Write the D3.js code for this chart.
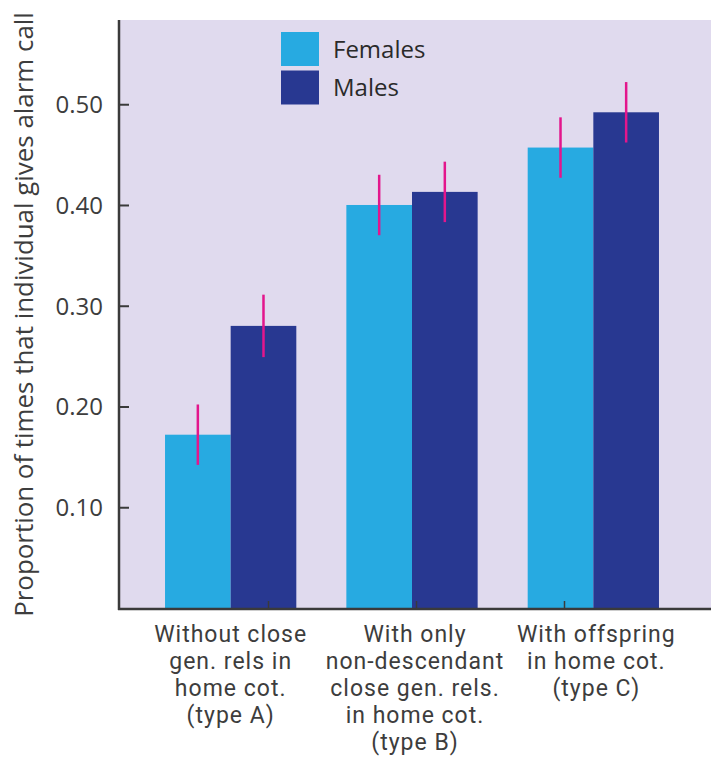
<!DOCTYPE html>
<html>
<head>
<meta charset="utf-8">
<script src="https://cdn.jsdelivr.net/npm/d3@7"></script>
<style>
  html, body { margin: 0; padding: 0; background: #ffffff; }
  svg { display: block; }
  text { font-family: "Open Sans", "Noto Sans", sans-serif; }
  text.cat { font-family: Roboto, "Open Sans", sans-serif; letter-spacing: 1px; }
</style>
</head>
<body>
<svg id="chart" width="711" height="757"></svg>
<script>
// ---- data ----
const categories = ["A", "B", "C"];
const categoryLabels = [
  ["Without close", "gen. rels in", "home cot.", "(type A)"],
  ["With only", "non-descendant", "close gen. rels.", "in home cot.", "(type B)"],
  ["With offspring", "in home cot.", "(type C)"]
];
const seriesNames = ["Females", "Males"];
const femalesValues = [0.172, 0.400, 0.457];
const malesValues   = [0.280, 0.413, 0.492];
const femalesError  = [0.030, 0.030, 0.030];
const malesError    = [0.031, 0.030, 0.030];
const yTicks = [0.10, 0.20, 0.30, 0.40, 0.50];
const yTitle = "Proportion of times that individual gives alarm call";

// ---- layout ----
const svg = d3.select("#chart");
const plotLeft = 119, plotTop = 20, plotRight = 711, plotBottom = 608;
const colors = { Females: "#27aae1", Males: "#283891" };
const errColor = "#e3168c";
const axisColor = "#3a3a3a";
const textColor = "#3d3d3d";

const y = d3.scaleLinear().domain([0, 0.5836]).range([plotBottom, plotTop]);
const x0 = d3.scaleBand().domain(categories).range([140, 684])
  .paddingInner(0.276).paddingOuter(0.138);
const x1 = d3.scaleBand().domain(seriesNames).range([0, x0.bandwidth()]).padding(0);
const xTickScale = d3.scalePoint().domain(categories).range([268, 564]);
const labelOffsets = [0, 3, 3];

// background
svg.append("rect")
  .attr("x", plotLeft).attr("y", plotTop)
  .attr("width", plotRight - plotLeft).attr("height", plotBottom - plotTop + 2)
  .attr("fill", "#e0daee");

// bars
const rows = categories.map((c, i) => ({
  cat: c,
  vals: [
    { s: "Females", v: femalesValues[i], e: femalesError[i] },
    { s: "Males", v: malesValues[i], e: malesError[i] }
  ]
}));

const groups = svg.append("g").selectAll("g").data(rows).join("g")
  .attr("transform", d => `translate(${x0(d.cat)},0)`);

groups.selectAll("rect").data(d => d.vals).join("rect")
  .attr("x", d => x1(d.s))
  .attr("y", d => y(d.v))
  .attr("width", x1.bandwidth())
  .attr("height", d => y(0) - y(d.v))
  .attr("fill", d => colors[d.s]);

groups.selectAll("line.err").data(d => d.vals).join("line")
  .attr("class", "err")
  .attr("x1", d => x1(d.s) + x1.bandwidth() / 2)
  .attr("x2", d => x1(d.s) + x1.bandwidth() / 2)
  .attr("y1", d => y(d.v + d.e))
  .attr("y2", d => y(d.v - d.e))
  .attr("stroke", errColor)
  .attr("stroke-width", 2.5);

// y axis
const yAxis = svg.append("g")
  .attr("transform", `translate(${plotLeft},0)`)
  .call(d3.axisLeft(y).tickValues(yTicks).tickFormat(d3.format(".2f"))
    .tickSizeInner(-10).tickSizeOuter(0).tickPadding(16));
yAxis.select(".domain").remove();
yAxis.selectAll(".tick line").attr("stroke", axisColor).attr("stroke-width", 2);
yAxis.selectAll(".tick text")
  .attr("fill", textColor)
  .style("font-size", "24px")
  .attr("dy", "0.35em");

// x axis ticks
const xAxis = svg.append("g")
  .attr("transform", `translate(0,${plotBottom + 1})`)
  .call(d3.axisBottom(xTickScale).tickSizeInner(-8).tickSizeOuter(0).tickFormat(""));
xAxis.select(".domain").remove();
xAxis.selectAll(".tick line").attr("stroke", axisColor).attr("stroke-width", 1.5);

// axis lines
svg.append("line")
  .attr("x1", plotLeft).attr("x2", plotLeft)
  .attr("y1", plotTop).attr("y2", plotBottom + 2)
  .attr("stroke", axisColor).attr("stroke-width", 2.5);
svg.append("line")
  .attr("x1", plotLeft - 1).attr("x2", plotRight)
  .attr("y1", plotBottom + 1).attr("y2", plotBottom + 1)
  .attr("stroke", axisColor).attr("stroke-width", 2.5);

// category labels (one text per line)
const catG = svg.append("g").selectAll("g").data(categoryLabels).join("g")
  .attr("transform", (d, i) => `translate(${x0(categories[i]) + x0.bandwidth() / 2 + labelOffsets[i]},642)`);
catG.selectAll("text").data(d => d).join("text")
  .attr("class", "cat")
  .attr("text-anchor", "middle")
  .attr("fill", textColor)
  .style("font-size", "23px")
  .attr("y", (d, j) => j * 27)
  .text(d => d);

// y title: sized so it spans from y≈12 to y≈617 like the reference
const titleTop = 12, titleBottom = 617;
const yt = svg.append("text")
  .attr("transform", `translate(33,${(titleTop + titleBottom) / 2}) rotate(-90)`)
  .attr("text-anchor", "middle")
  .attr("fill", textColor)
  .style("font-size", "24px")
  .text(yTitle);
const len24 = yt.node().getComputedTextLength();
if (len24 > 0) {
  yt.style("font-size", (24 * (titleBottom - titleTop) / len24).toFixed(2) + "px");
}

// legend
const legend = svg.append("g").attr("transform", "translate(281,32)");
const lg = legend.selectAll("g").data(seriesNames).join("g")
  .attr("transform", (d, i) => `translate(0,${i * 38.5})`);
lg.append("rect").attr("width", 38).attr("height", 34)
  .attr("fill", d => colors[d]);
lg.append("text").attr("x", 52).attr("y", 17).attr("dy", "0.36em")
  .attr("fill", "#2a2a2a")
  .style("font-size", "24px")
  .text(d => d);
</script>
</body>
</html>
